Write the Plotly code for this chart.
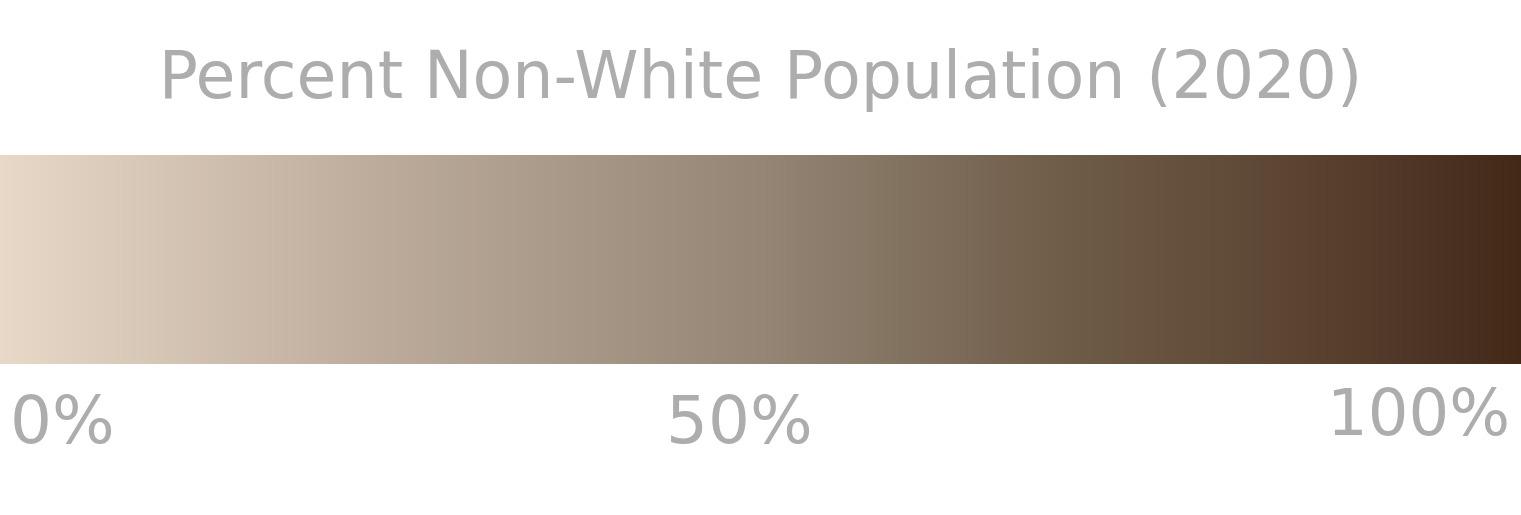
import plotly.graph_objects as go

title_text = "Percent Non-White Population (2020)"
percent_values = [0, 25, 50, 70, 85, 100]
tick_labels = ["0%", "50%", "100%"]
stop_positions = [0.0, 0.25, 0.5, 0.7, 0.85, 1.0]
stop_colors = ["#e8d8c8", "#bcab9a", "#948575", "#6e5c48", "#5c4433", "#432818"]

colorscale = [[p, c] for p, c in zip(stop_positions, stop_colors)]

fig = go.Figure(go.Heatmap(
    z=[percent_values],
    x=percent_values,
    y=[0],
    zmin=0, zmax=100,
    colorscale=colorscale,
    zsmooth="best",
    showscale=False,
    hoverinfo="skip",
))

W, H = 1521, 515
top, bottom = 155, 364
font = "DejaVu Sans"
grey = "#adadad"

fig.update_layout(
    width=W, height=H,
    margin=dict(l=0, r=0, t=top, b=H - bottom, pad=0),
    paper_bgcolor="white", plot_bgcolor="white",
    xaxis=dict(range=[0, 100], visible=False, fixedrange=True),
    yaxis=dict(range=[-0.5, 0.5], visible=False, fixedrange=True),
    title=dict(text=title_text, x=0.5, xanchor="center", y=1 - 75 / H, yanchor="middle",
               font=dict(family=font, size=65, color=grey)),
    showlegend=False,
)

ph = bottom - top
def py(Y):
    return (bottom - Y) / ph

fig.add_annotation(text=tick_labels[0], xref="paper", yref="paper", x=0, y=py(420),
                   xanchor="left", yanchor="middle", xshift=8, showarrow=False,
                   font=dict(family=font, size=66, color=grey))
fig.add_annotation(text=tick_labels[1], xref="paper", yref="paper", x=739 / W, y=py(420),
                   xanchor="center", yanchor="middle", showarrow=False,
                   font=dict(family=font, size=66, color=grey))
fig.add_annotation(text=tick_labels[2], xref="paper", yref="paper", x=1, y=py(413),
                   xanchor="right", yanchor="middle", xshift=-9, showarrow=False,
                   font=dict(family=font, size=64, color=grey))

fig.write_html("out.html", config={"displayModeBar": False})
